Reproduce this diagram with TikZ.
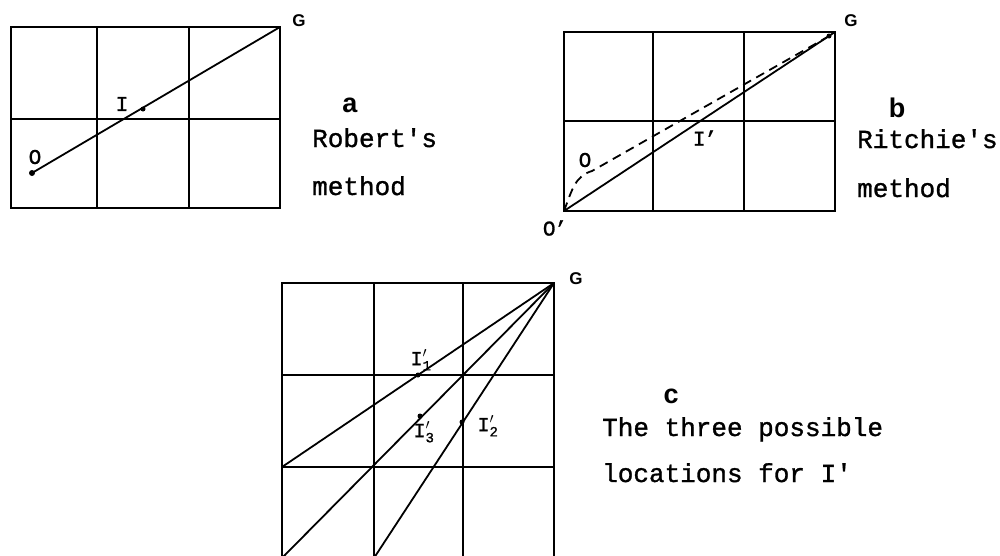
\documentclass[tikz,border=0pt]{standalone}
\usepackage{fontspec}
\newfontfamily\twfont[FakeBold=1.2]{Liberation Mono}
\newfontfamily\lsfont{Liberation Sans}
\newcommand{\sublab}[1]{I$^{\prime}_{\mbox{\fontsize{14}{14}\selectfont #1}}$}
\begin{document}
\begin{tikzpicture}[x=1pt,y=-1pt,
  grid/.style={line width=2pt},
  ray/.style={line width=1.8pt},
  dashray/.style={line width=1.8pt, dash pattern=on 9pt off 6pt},
  caption/.style={inner sep=0pt, anchor=base west, font=\twfont\fontsize{26}{30}\selectfont},
  panel/.style={inner sep=0pt, anchor=base, font=\lsfont\bfseries\fontsize{27}{30}\selectfont},
  gl/.style={inner sep=0pt, font=\lsfont\bfseries\fontsize{17}{19}\selectfont},
  pl/.style={inner sep=0pt, font=\twfont\fontsize{21}{23}\selectfont},
  sl/.style={inner sep=0pt, font=\twfont\fontsize{20}{22}\selectfont},
  pt/.style={fill, circle, inner sep=0pt, minimum size=5pt}]
\useasboundingbox (0,0) rectangle (1000,555);
\clip (0,0) rectangle (1000,555);

% ---------- panel a ----------
\draw[grid] (11,27) rectangle (280,208);
\draw[grid] (97,27) -- (97,208) (189,27) -- (189,208) (11,119) -- (280,119);
\coordinate (aO) at (32,173);
\coordinate (aG) at (280,27);
\node[pt, minimum size=6pt] (aOd) at (aO) {};
\node[pt] (aI) at (143,109) {};
\draw[ray] (aO) -- (aG);
\node[pl] (laO) at (35,157) {O};
\node[pl] (laI) at (122,104) {I};
\node[gl] (laG) at (299,21) {G};
\node[panel] (pa) at (350,112) {a};
\node[caption] (ca1) at (312,147) {Robert's};
\node[caption] (ca2) at (312,195) {method};

% ---------- panel b ----------
\draw[grid] (564,32) rectangle (835,211);
\draw[grid] (653,32) -- (653,211) (744,32) -- (744,211) (564,121) -- (835,121);
\coordinate (bO1) at (564,211);
\coordinate (bG) at (835,32);
\coordinate (bO) at (592,171);
\draw[ray] (bO1) -- (bG);
\draw[dashray] (bO1) .. controls (572,190) and (575,176) .. (bO) -- (831,35);
\node[pt] (bGd) at (829,36) {};
\node[pl] (lbO) at (585,160) {O};
\node[pl] (lbI) at (705,138) {I\kern-1pt’};
\node[pl] (lbO1) at (555,228) {O\kern-1pt’};
\node[gl] (lbG) at (851,21) {G};
\node[panel] (pb) at (897,117) {b};
\node[caption] (cb1) at (857,148) {Ritchie's};
\node[caption] (cb2) at (857,197) {method};

% ---------- panel c ----------
\draw[grid] (282,283) rectangle (554,560);
\draw[grid] (374,283) -- (374,560) (463,283) -- (463,560)
  (282,375) -- (554,375) (282,467) -- (554,467);
\coordinate (cG) at (554,283);
\coordinate (cA) at (282,467);
\coordinate (cB) at (282,558);
\coordinate (cC) at (374,558);
\draw[ray] (cG) -- (cA);
\draw[ray] (cG) -- (cB);
\draw[ray] (cG) -- (cC);
\node[pt] (cI1) at (418,375) {};
\node[pt] (cI3) at (420,416) {};
\node[pt] (cI2) at (462,422) {};
\node[sl] (lcI1) at (421,360) {\sublab{1}};
\node[sl] (lcI3) at (424,432) {\sublab{3}};
\node[sl] (lcI2) at (488,426) {\sublab{2}};
\node[gl] (lcG) at (576,279) {G};
\node[panel] (pc) at (671,403) {c};
\node[caption] (cc1) at (602,436) {The three possible};
\node[caption] (cc2) at (602,482) {locations for I'};
\end{tikzpicture}
\end{document}
